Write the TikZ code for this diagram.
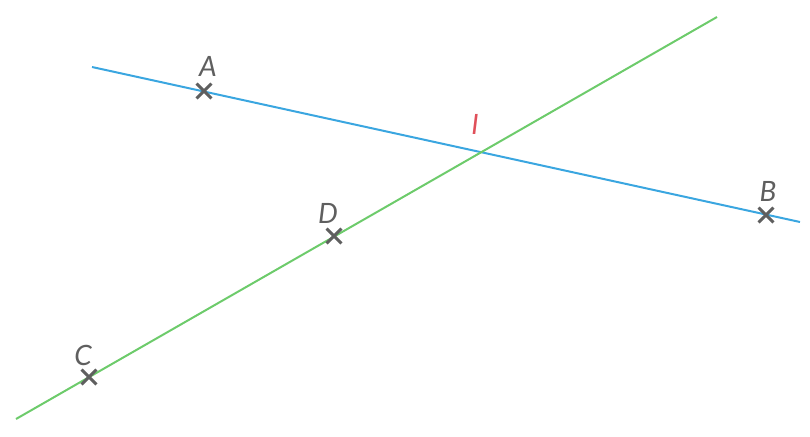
\documentclass[tikz,border=0pt]{standalone}
\usepackage{fontspec}
\setsansfont{Lato}
\usetikzlibrary{shapes.misc}
\definecolor{droiteblue}{HTML}{3AA6E0}
\definecolor{droitegreen}{HTML}{6DCB6B}
\definecolor{pointgray}{HTML}{5F5F5F}
\definecolor{pointred}{HTML}{E0505A}
\tikzset{
  pt/.style={cross out,draw=pointgray,line width=2.2pt,minimum size=9pt,inner sep=0pt},
  lbl/.style={font=\sffamily\itshape\fontsize{21}{21}\selectfont,text=pointgray,inner sep=0pt}
}
\begin{document}
\begin{tikzpicture}[x=0.75pt,y=-0.75pt]
\useasboundingbox (0,0) rectangle (810,436);
% droites
\coordinate (b1) at (92,67);
\coordinate (b2) at (800,222);
\coordinate (g1) at (16,419);
\coordinate (g2) at (717,17);
\draw [droiteblue,line width=1.5pt] (b1) -- (b2);
\draw [droitegreen,line width=1.5pt] (g1) -- (g2);
% points
\node [pt] (A) at (204,91) {};
\node [pt] (B) at (766,215) {};
\node [pt] (C) at (89,377) {};
\node [pt] (D) at (334,236) {};
\node [lbl] at (208,66) {A};
\node [lbl] at (768,191) {B};
\node [lbl] at (83,355) {C};
\node [lbl] at (328,213) {D};
\node [lbl,text=pointred] (I) at (475,124) {I};
\end{tikzpicture}
\end{document}
